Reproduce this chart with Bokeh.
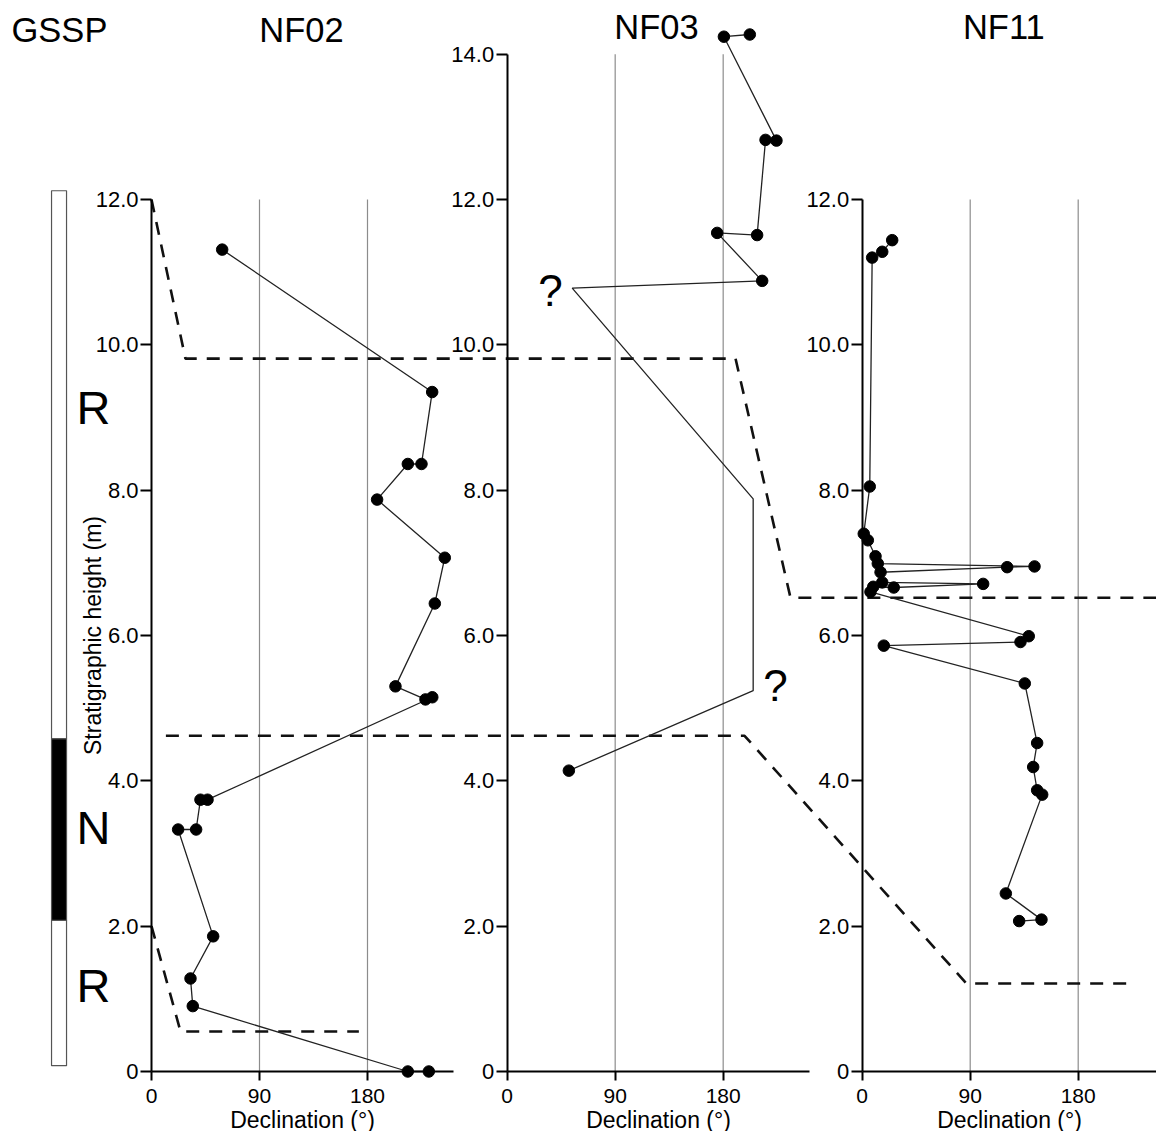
from bokeh.plotting import figure
from bokeh.models import Range1d, LinearAxis, FixedTicker, CustomJSTickFormatter, BasicTickFormatter
from bokeh.core.properties import value
from bokeh.embed import file_html
from bokeh.resources import INLINE

FONT = "Liberation Sans"

# ------------------------------------------------------------------ data
# NF02 : declination (deg) and stratigraphic height (m), in drawing order
NF02_DEC = [58.9, 233.9, 225.0, 213.6, 188.0, 244.4, 236.1, 203.3, 228.3, 234.0,
            46.7, 40.8, 37.2, 22.2, 51.4, 32.5, 34.4, 213.6, 231.1]
NF02_H = [11.31, 9.35, 8.36, 8.36, 7.87, 7.07, 6.44, 5.30, 5.12, 5.15,
          3.74, 3.74, 3.33, 3.33, 1.86, 1.28, 0.90, 0.00, 0.00]

# NF03 : path includes inferred vertices (no sample) marked False
NF03_DEC = [202.2, 180.6, 224.4, 215.3, 208.3, 175.0, 212.5, 54.2, 205.0, 205.0, 51.4]
NF03_H = [14.27, 14.24, 12.81, 12.82, 11.51, 11.54, 10.88, 10.78, 7.88, 5.24, 4.14]
NF03_SAMPLED = [True, True, True, True, True, True, True, False, False, False, True]
NF03_QUERY_DEC = [36.1, 223.6]
NF03_QUERY_H = [10.75, 5.31]

# NF11
NF11_DEC = [25.0, 16.7, 8.3, 6.3, 1.3, 4.7, 11.1, 13.0, 143.6, 120.8, 15.3, 16.7,
            100.8, 26.3, 9.2, 6.9, 138.8, 131.9, 18.0, 135.5, 145.8, 142.5, 145.8,
            150.0, 119.7, 149.4, 130.8]
NF11_H = [11.44, 11.28, 11.20, 8.05, 7.40, 7.31, 7.09, 6.99, 6.95, 6.94, 6.87, 6.73,
          6.71, 6.66, 6.67, 6.60, 5.99, 5.91, 5.86, 5.34, 4.52, 4.19, 3.87,
          3.81, 2.45, 2.09, 2.07]

# GSSP polarity column
GSSP_BOTTOM = [0.08, 2.08, 4.58]
GSSP_TOP = [2.08, 4.58, 12.12]
GSSP_POLARITY = ["R", "N", "R"]
GSSP_LABEL_H = [1.18, 3.36, 9.14]
POLARITY_FILL = {"R": "white", "N": "black"}

# Correlation lines: (panel, declination, height)
CORR_LINES = [
    [("NF02", 0.0, 12.0), ("NF02", 28.3, 9.81), ("NF03", 190.3, 9.81),
     ("NF03", 236.1, 6.52), ("NF11", 250.0, 6.52)],
    [("NF02", 12.0, 4.62), ("NF03", 197.8, 4.62), ("NF11", 86.9, 1.21),
     ("NF11", 227.8, 1.21)],
    [("NF02", 0.0, 2.0), ("NF02", 24.2, 0.55), ("NF02", 172.8, 0.55)],
]

PANELS = ["NF02", "NF03", "NF11"]
PANEL_TOP = {"NF02": 12, "NF03": 14, "NF11": 12}
Y_TICKS = {"NF02": [0, 2, 4, 6, 8, 10, 12],
           "NF03": [0, 2, 4, 6, 8, 10, 12, 14],
           "NF11": [0, 2, 4, 6, 8, 10, 12]}
X_TICKS = [0, 90, 180]
GRID_DEC = [90, 180]

# ------------------------------------------------------------------ layout
W, H = 1156, 1131
X0 = -125.83                            # global x (NF02 degrees) at left edge
X1 = X0 + W / 1.2
Y0, Y1 = -0.8257, 14.738
PANEL_ORIGIN = {"NF02": 0.0, "NF03": 296.4, "NF11": 592.25}
AXIS_END = 252
GSSP_LEFT, GSSP_RIGHT = -83.3, -70.8
GSSP_LABEL_X = -48.3
TITLES = [("GSSP", "global", -76.7, 14.33), ("NF02", "NF02", 125.0, 14.33),
          ("NF03", "NF03", 124.4, 14.37), ("NF11", "NF11", 118.0, 14.37)]

p = figure(frame_width=W, frame_height=H,
           x_range=Range1d(X0, X1), y_range=Range1d(Y0, Y1),
           x_axis_type=None, y_axis_type=None,
           toolbar_location=None, output_backend="svg",
           min_border_left=0, min_border_right=0, min_border_top=0,
           min_border_bottom=0)
p.outline_line_color = None
p.background_fill_color = "white"
p.border_fill_color = "white"

p.extra_x_ranges = {name: Range1d(X0 - PANEL_ORIGIN[name], X1 - PANEL_ORIGIN[name])
                    for name in PANELS}

# grid lines per panel
for name in PANELS:
    top = PANEL_TOP[name]
    p.segment(x0=GRID_DEC, y0=[0] * len(GRID_DEC), x1=GRID_DEC, y1=[top] * len(GRID_DEC),
              x_range_name=name, line_color="#8c8c8c", line_width=1.2)

# GSSP column
p.quad(left=[GSSP_LEFT] * 3, right=[GSSP_RIGHT] * 3, bottom=GSSP_BOTTOM, top=GSSP_TOP,
       fill_color=[POLARITY_FILL[k] for k in GSSP_POLARITY], line_color="#555555",
       line_width=1.2)
p.text(x=[GSSP_LABEL_X] * 3, y=GSSP_LABEL_H, text=GSSP_POLARITY,
       text_font=value(FONT), text_font_size="47px", text_align="center",
       text_baseline="middle", text_color="black")

# correlation dashed lines
for line in CORR_LINES:
    xs = [PANEL_ORIGIN[pn] + d for pn, d, h in line]
    ys = [h for pn, d, h in line]
    p.line(xs, ys, line_color="#111111", line_width=2.6, line_dash="13 10")

# data
p.line(NF02_DEC, NF02_H, x_range_name="NF02", line_color="#222222", line_width=1.3)
p.scatter(NF02_DEC, NF02_H, x_range_name="NF02", size=11.5, color="black")

p.line(NF03_DEC, NF03_H, x_range_name="NF03", line_color="#222222", line_width=1.3)
s_dec = [d for d, s in zip(NF03_DEC, NF03_SAMPLED) if s]
s_h = [h for h, s in zip(NF03_H, NF03_SAMPLED) if s]
p.scatter(s_dec, s_h, x_range_name="NF03", size=11.5, color="black")
p.text(x=NF03_QUERY_DEC, y=NF03_QUERY_H, text=["?", "?"], x_range_name="NF03",
       text_font=value(FONT), text_font_size="44px", text_align="center",
       text_baseline="middle", text_color="black")

p.line(NF11_DEC, NF11_H, x_range_name="NF11", line_color="#222222", line_width=1.3)
p.scatter(NF11_DEC, NF11_H, x_range_name="NF11", size=11.5, color="black")

# titles
for txt, rng, x, y in TITLES:
    kw = {} if rng == "global" else {"x_range_name": rng}
    p.text(x=[x], y=[y], text=[txt], text_font=value(FONT), text_font_size="34.5px",
           text_align="center", text_baseline="middle", text_color="black", **kw)

# axes
yfmt = CustomJSTickFormatter(code="return tick == 0 ? '0' : tick.toFixed(1);")


def style(ax):
    ax.axis_line_width = 2
    ax.axis_line_color = "black"
    ax.major_tick_line_width = 2
    ax.major_tick_line_color = "black"
    ax.major_tick_in = 0
    ax.minor_tick_line_color = None
    ax.major_label_text_font = FONT
    ax.major_label_text_font_size = "22px"
    ax.major_label_text_color = "black"
    ax.axis_label_text_font = FONT
    ax.axis_label_text_font_size = "23px"
    ax.axis_label_text_font_style = "normal"
    ax.axis_label_text_color = "black"


for name in PANELS:
    yax = LinearAxis(x_range_name=name, fixed_location=0, bounds=(0, PANEL_TOP[name]),
                     ticker=FixedTicker(ticks=Y_TICKS[name]), formatter=yfmt)
    style(yax)
    yax.major_tick_out = 11
    yax.major_label_standoff = 2
    if name == "NF02":
        yax.axis_label = "Stratigraphic height (m)"
        yax.axis_label_standoff = -13
    p.add_layout(yax, "left")

    xax = LinearAxis(x_range_name=name, fixed_location=0, bounds=(0, AXIS_END),
                     ticker=FixedTicker(ticks=X_TICKS), formatter=BasicTickFormatter())
    style(xax)
    xax.major_label_text_font_size = "21px"
    xax.major_tick_out = 9
    xax.major_label_standoff = 9
    xax.axis_label = "Declination (°)"
    xax.axis_label_standoff = 0
    p.add_layout(xax, "below")

open("out.html", "w").write(file_html(p, INLINE))
